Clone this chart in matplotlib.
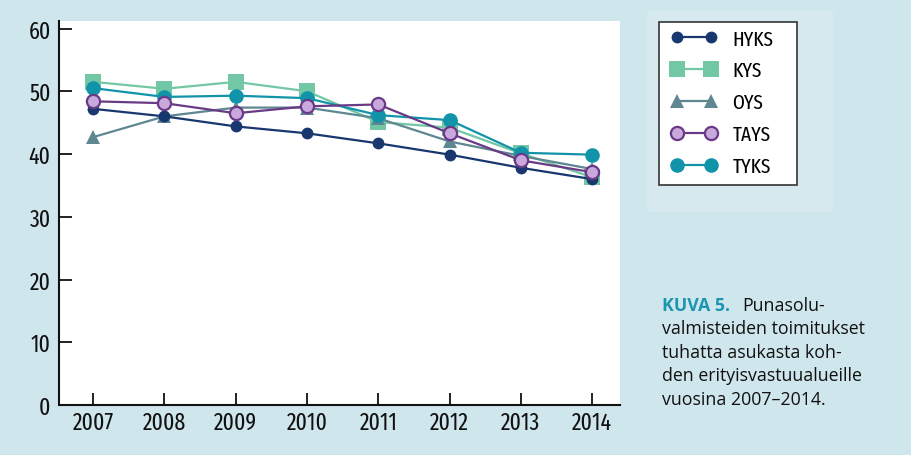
import matplotlib
matplotlib.use("Agg")
import matplotlib.pyplot as plt
from matplotlib.patches import Rectangle
from matplotlib import font_manager as fm

names = set(f.name for f in fm.fontManager.ttflist)
cond = [n for n in ["Fira Sans Extra Condensed", "Fira Sans Condensed", "PT Sans Narrow",
                    "Roboto Condensed", "DejaVu Sans"] if n in names]
narrow = cond[0]

years = [2007, 2008, 2009, 2010, 2011, 2012, 2013, 2014]
hyks = [47.2, 46.0, 44.4, 43.3, 41.7, 39.9, 37.8, 36.0]
kys = [51.5, 50.4, 51.5, 50.0, 45.1, 44.2, 40.1, 36.3]
oys = [42.7, 46.0, 47.4, 47.4, 45.7, 42.0, 39.7, 37.6]
tays = [48.4, 48.1, 46.5, 47.6, 47.9, 43.3, 39.0, 37.1]
tyks = [50.5, 49.1, 49.3, 48.9, 46.2, 45.4, 40.2, 39.9]
series_names = ["HYKS", "KYS", "OYS", "TAYS", "TYKS"]
yticks = [0, 10, 20, 30, 40, 50, 60]
caption_head = "KUVA 5."
caption_lines = ["Punasolu-", "valmisteiden toimitukset", "tuhatta asukasta koh-",
                 "den erityisvastuualueille", "vuosina 2007\u20132014."]

W, H = 911, 456
bg = "#cfe6ec"
fig = plt.figure(figsize=(W / 100, H / 100), dpi=100)
fig.patch.set_facecolor(bg)


def px_rect(x0, y0, x1, y1, **kw):
    return Rectangle((x0 / W, 1 - y1 / H), (x1 - x0) / W, (y1 - y0) / H,
                     transform=fig.transFigure, **kw)


# legend backdrop panel and legend frame
fig.patches.append(px_rect(647, 12, 833, 213, facecolor="#d5e9ee", edgecolor="none", zorder=0))
fig.patches.append(px_rect(659, 23, 797, 186, facecolor="white", edgecolor="#333333",
                           linewidth=1.2, zorder=1))

ax = fig.add_axes([59 / W, (H - 406) / H, (620 - 59) / W, (406 - 22) / H])
ax.set_facecolor("white")

styles = {
    "HYKS": dict(color="#17376e", marker="o", ms=8.5, mfc="#17376e", mec="#17376e", mew=0),
    "KYS": dict(color="#72c7a4", marker="s", ms=11, mfc="#72c7a4", mec="#72c7a4", mew=0),
    "OYS": dict(color="#5e8791", marker="^", ms=10, mfc="#5e8791", mec="#5e8791", mew=0),
    "TAYS": dict(color="#6a3a86", marker="o", ms=9.5, mfc="#c9a8de", mec="#6a3a86", mew=1.6),
    "TYKS": dict(color="#1193a9", marker="o", ms=10.5, mfc="#1193a9", mec="#1193a9", mew=0),
}
data = {"HYKS": hyks, "KYS": kys, "OYS": oys, "TAYS": tays, "TYKS": tyks}
order = ["KYS", "OYS", "TYKS", "HYKS", "TAYS"]
handles = {}
for i, name in enumerate(order):
    st = styles[name]
    ln, = ax.plot(years, data[name], lw=1.6, zorder=3 + i, **st)
    handles[name] = ln

ax.set_xlim(2006.52, 2014.39)
ax.set_ylim(0, 61.2)
ax.set_xticks(years)
ax.set_xticklabels([str(y) for y in years])
ax.set_yticks(yticks)
for s in ["top", "right"]:
    ax.spines[s].set_visible(False)
for s in ["left", "bottom"]:
    ax.spines[s].set_linewidth(1.5)
    ax.spines[s].set_color("#111111")
ax.tick_params(direction="in", length=9, width=1.3, color="#111111",
               labelsize=17, pad=6)
ax.tick_params(axis="x", pad=4)
for lab in ax.get_xticklabels() + ax.get_yticklabels():
    lab.set_fontfamily(narrow)
    lab.set_color("#111111")

fs_leg = 15
leg = fig.legend([handles[n] for n in series_names], series_names,
                 loc="upper left", bbox_to_anchor=(671 / W, 1 - 30 / H),
                 bbox_transform=fig.transFigure, numpoints=2, handlelength=2.2,
                 handletextpad=0.75, labelspacing=0.59, borderpad=0,
                 borderaxespad=0, frameon=False,
                 prop={"family": narrow, "size": fs_leg})
leg.set_zorder(5)

y0 = 1 - 311 / H
dy = 23.5 / H
x0 = 662 / W
fig.text(x0, y0, caption_head, color="#1a96b2", fontsize=12.8, fontweight="bold",
         family="Open Sans", va="baseline")
fig.text(742 / W, y0, caption_lines[0], color="#111111", fontsize=12.8,
         family="Open Sans", va="baseline")
for i, line in enumerate(caption_lines[1:], start=1):
    fig.text(x0, y0 - i * dy, line, color="#111111", fontsize=12.8,
             family="Open Sans", va="baseline")

fig.savefig("out.png", dpi=100, facecolor=bg)
